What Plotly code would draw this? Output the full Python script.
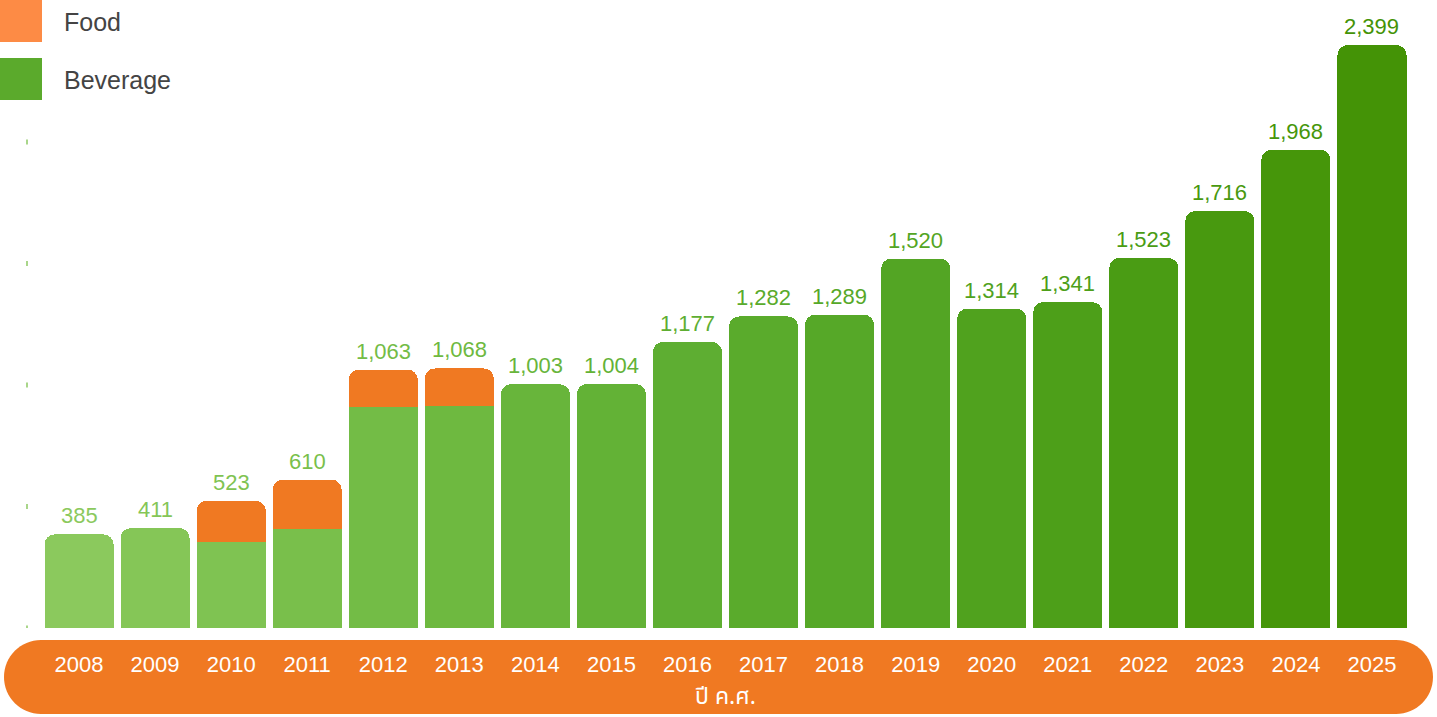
import plotly.graph_objects as go

years = ["2008", "2009", "2010", "2011", "2012", "2013", "2014", "2015", "2016",
         "2017", "2018", "2019", "2020", "2021", "2022", "2023", "2024", "2025"]
totals = [385, 411, 523, 610, 1063, 1068, 1003, 1004, 1177,
          1282, 1289, 1520, 1314, 1341, 1523, 1716, 1968, 2399]
beverage = [385, 411, 355, 407, 911, 915, 1003, 1004, 1177,
            1282, 1289, 1520, 1314, 1341, 1523, 1716, 1968, 2399]
food = [None, None, 168, 203, 152, 153, None, None, None,
        None, None, None, None, None, None, None, None, None]
label_text = ["385", "411", "523", "610", "1,063", "1,068", "1,003", "1,004", "1,177",
              "1,282", "1,289", "1,520", "1,314", "1,341", "1,523", "1,716", "1,968", "2,399"]
ytick_values = [0, 500, 1000, 1500, 2000]
legend_names = ["Food", "Beverage"]
x_title = "ปี ค.ศ."

bar_colors = ["#8BC95D", "#85C657", "#7FC352", "#79BF4B", "#73BC46", "#6EB940",
              "#68B53B", "#63B236", "#5EAE32", "#5AAB2C", "#56A828", "#53A524",
              "#50A21E", "#4D9F19", "#4A9C14", "#48990F", "#46960A", "#449306"]
food_color = "#F07922"
band_color = "#F07922"
legend_colors = ["#FD8B45", "#5BAA2C"]

W, H = 1437, 717
ml, mr, mt, mb = 41, 27, 6, 89
pw, ph = W - ml - mr, H - mt - mb
px_per_unit = 0.243
ymax = ph / px_per_unit
FONT = "Liberation Sans, Arial, sans-serif"


def px2x(px):
    return (px - ml) / pw


def px2y(py):
    return (H - mb - py) / ph


fig = go.Figure()
fig.add_trace(go.Bar(x=years, y=beverage, name="Beverage",
                     marker=dict(color=bar_colors, line=dict(width=0), cornerradius=10),
                     hoverinfo="x+y"))
fig.add_trace(go.Bar(x=years, y=food, name="Food",
                     marker=dict(color=food_color, line=dict(width=0), cornerradius=10),
                     hoverinfo="x+y"))

annotations = []
for i, (tot, txt, col) in enumerate(zip(totals, label_text, bar_colors)):
    annotations.append(dict(x=i, y=tot, xref="x", yref="y", text=txt, showarrow=False,
                            yanchor="bottom", yshift=4,
                            font=dict(family=FONT, size=22, color=col)))

shapes = []
# orange pill band behind the x axis labels
x0, x1, y0, y1 = 4, 1433, 640, 714
r = (y1 - y0) / 2
k = 0.5523 * r
pts = [
    ("M", [(x0 + r, y0)]),
    ("L", [(x1 - r, y0)]),
    ("C", [(x1 - r + k, y0), (x1, y0 + r - k), (x1, y0 + r)]),
    ("C", [(x1, y0 + r + k), (x1 - r + k, y1), (x1 - r, y1)]),
    ("L", [(x0 + r, y1)]),
    ("C", [(x0 + r - k, y1), (x0, y0 + r + k), (x0, y0 + r)]),
    ("C", [(x0, y0 + r - k), (x0 + r - k, y0), (x0 + r, y0)]),
]
path = ""
for cmd, ps in pts:
    path += cmd + " ".join(f"{px2x(a):.5f},{px2y(b):.5f}" for a, b in ps) + " "
path += "Z"
shapes.append(dict(type="path", xref="paper", yref="paper", path=path,
                   fillcolor=band_color, line=dict(width=0), layer="below"))

# tiny tick marks at the left
for v in ytick_values:
    shapes.append(dict(type="line", xref="paper", yref="y",
                       x0=px2x(27), x1=px2x(27), y0=v - 10, y1=v + 10,
                       line=dict(color="#8DC863", width=1.5)))

# custom legend
for i, (nm, col) in enumerate(zip(legend_names, legend_colors)):
    top = 0 + i * 58
    shapes.append(dict(type="rect", xref="paper", yref="paper",
                       x0=px2x(0), x1=px2x(42), y0=px2y(top + 42), y1=px2y(top),
                       fillcolor=col, line=dict(width=0)))
    annotations.append(dict(x=px2x(62), y=px2y(top + 22), xref="paper", yref="paper",
                            text=nm, showarrow=False, xanchor="left", yanchor="middle",
                            font=dict(family=FONT, size=25, color="#444444")))

fig.update_layout(
    width=W, height=H,
    margin=dict(l=ml, r=mr, t=mt, b=mb),
    barmode="stack", bargap=0.092,
    plot_bgcolor="white", paper_bgcolor="white",
    showlegend=False,
    xaxis=dict(type="category", range=[-0.5, len(years) - 0.5],
               showgrid=False, showline=False, zeroline=False,
               ticks="outside", ticklen=17, tickcolor="rgba(0,0,0,0)",
               tickfont=dict(family=FONT, size=22, color="white"),
               title=dict(text=x_title, standoff=11,
                          font=dict(family="Noto Sans Thai, Noto Sans, DejaVu Sans, sans-serif",
                                    size=23, color="white"))),
    yaxis=dict(range=[0, ymax], showgrid=False, showline=False, zeroline=False,
               showticklabels=False, ticks=""),
    shapes=shapes, annotations=annotations,
)

fig.write_html("out.html", config={"displayModeBar": False},
               post_script="document.body.style.margin='0';document.body.style.overflow='hidden';")
